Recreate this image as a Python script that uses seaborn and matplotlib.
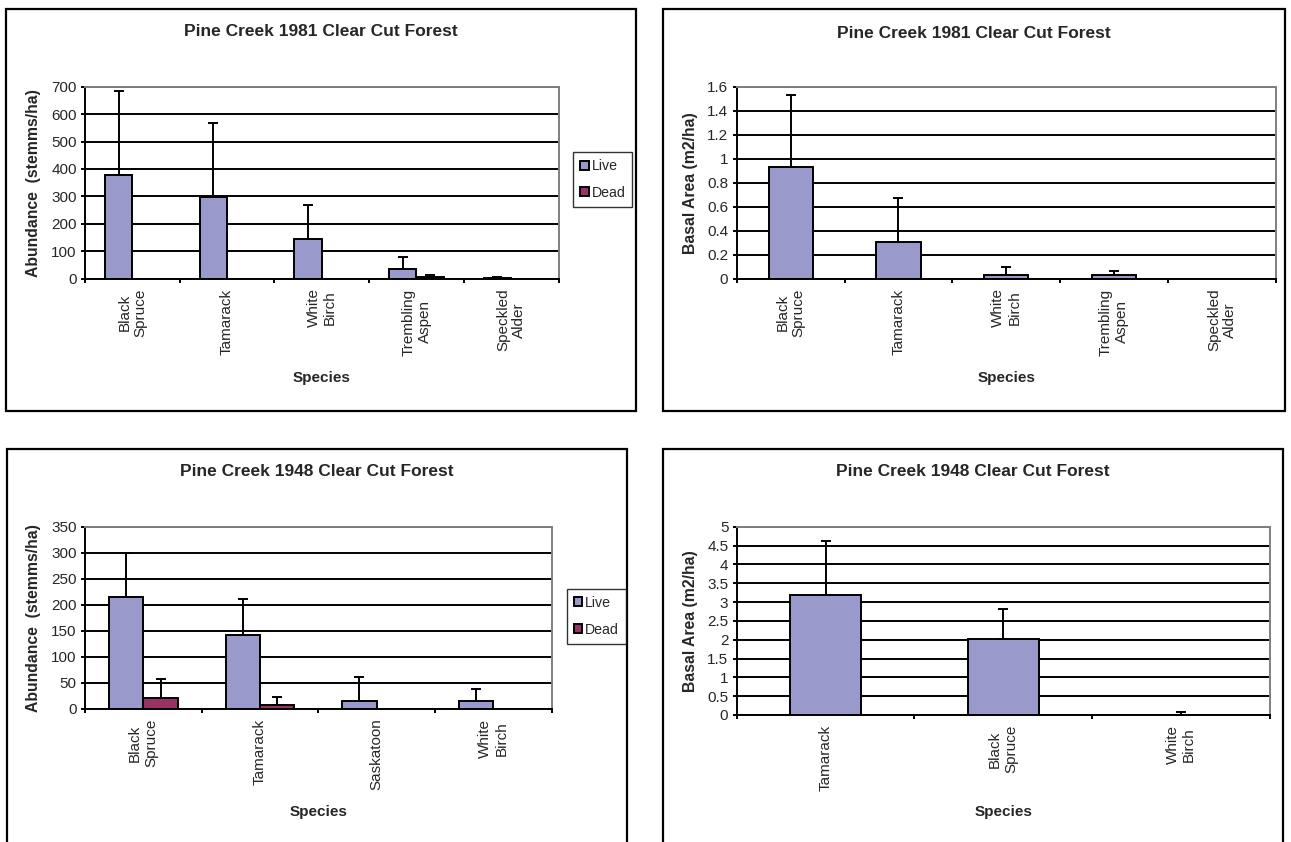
"""
Pine Creek clear cut forest: stem abundance and basal area by species (1981 and 1948 cuts).
Four Excel-style bar panels, each in its own framed box.
"""
import matplotlib
matplotlib.use("Agg")
import matplotlib.pyplot as plt
from matplotlib.patches import Rectangle, Patch
from matplotlib.ticker import FixedLocator, FuncFormatter
import numpy as np
import pandas as pd
import seaborn as sns

# ---- values ----
species_1981 = ["Black\nSpruce", "Tamarack", "White\nBirch", "Trembling\nAspen", "Speckled\nAlder"]
live_stems_1981 = [378, 299, 145, 35, 4]
live_stems_1981_sd = [307, 270, 124, 44, 2]
dead_stems_1981 = [0, 0, 0, 7, 0]
dead_stems_1981_sd = [0, 0, 0, 8, 0]
basal_1981 = [0.93, 0.31, 0.03, 0.03, 0.0]
basal_1981_sd = [0.60, 0.36, 0.07, 0.037, 0.0]

species_1948 = ["Black\nSpruce", "Tamarack", "Saskatoon", "White\nBirch"]
live_stems_1948 = [215, 142, 15, 15]
live_stems_1948_sd = [85, 69, 46, 23]
dead_stems_1948 = [22, 8, 0, 0]
dead_stems_1948_sd = [35, 15, 0, 0]

species_basal_1948 = ["Tamarack", "Black\nSpruce", "White\nBirch"]
basal_1948 = [3.19, 2.03, 0.01]
basal_1948_sd = [1.43, 0.79, 0.06]

status_levels = ["Live", "Dead"]
status_colors = {"Live": "#9999CC", "Dead": "#993366"}

title_1981 = "Pine Creek 1981 Clear Cut Forest"
title_1948 = "Pine Creek 1948 Clear Cut Forest"
stems_label = "Abundance  (stemms/ha)"
basal_label = "Basal Area (m2/ha)"

W, H = 1291, 842
LW = 1.4

sns.set_theme(style="white")
plt.rcParams["font.family"] = ["Liberation Sans", "DejaVu Sans"]


def fpt(x, y):
    """pixel position -> figure fraction"""
    return x / W, 1 - y / H


def stems_frame(species, live, dead):
    return pd.concat([
        pd.DataFrame({"Species": species, "Status": "Live", "Value": live}),
        pd.DataFrame({"Species": species, "Status": "Dead", "Value": dead}),
    ], ignore_index=True)


def add_errorbars(ax, sd_lists):
    # Excel style "plus" error bars sitting on top of each bar
    for container, sds in zip(ax.containers, sd_lists):
        for bar, sd in zip(container, sds):
            if sd <= 0:
                continue
            x = bar.get_x() + bar.get_width() / 2
            y = bar.get_height()
            ax.errorbar(x, y, yerr=[[0], [sd]], fmt="none", ecolor="black",
                        elinewidth=LW, capsize=3.6, capthick=LW, zorder=3)


def make_panel(fig, title, frame, axes_px, df, species, sds, ymax, ystep, ylabel,
               title_y, xlabel_y, ylabel_x, hued, width, legend_at=None):
    # outer chart frame
    x0, y0, x1, y1 = frame
    fig.add_artist(Rectangle(fpt(x0, y1), (x1 - x0) / W, (y1 - y0) / H,
                             transform=fig.transFigure, fill=False,
                             edgecolor="black", linewidth=1.6))
    ax0, ay0, ax1, ay1 = axes_px
    ax = fig.add_axes([ax0 / W, 1 - ay1 / H, (ax1 - ax0) / W, (ay1 - ay0) / H])

    if hued:
        sns.barplot(data=df, x="Species", y="Value", hue="Status", order=species,
                    hue_order=status_levels, palette=status_colors, width=width,
                    saturation=1, edgecolor="black", linewidth=LW, errorbar=None,
                    legend=False, ax=ax)
    else:
        sns.barplot(data=df, x="Species", y="Value", order=species,
                    color=status_colors["Live"], width=width, saturation=1,
                    edgecolor="black", linewidth=LW, errorbar=None, ax=ax)
    add_errorbars(ax, sds)

    n = len(species)
    ax.set_xlim(-0.5, n - 0.5)
    ax.set_ylim(0, ymax)
    ticks = np.round(np.arange(0, ymax + ystep / 2, ystep), 3)
    ax.yaxis.set_major_locator(FixedLocator(ticks))
    ax.yaxis.set_major_formatter(FuncFormatter(lambda v, p: f"{v:g}"))
    ax.yaxis.grid(True, color="black", linewidth=LW)
    ax.set_axisbelow(True)

    ax.set_xticks(range(n))
    ax.set_xticklabels(species, rotation=90, ha="center", va="top",
                       multialignment="center", fontsize=11)
    ax.set_xticks(np.arange(-0.5, n), minor=True)
    ax.tick_params(axis="x", which="major", length=0, pad=7)
    ax.tick_params(axis="x", which="minor", length=3, width=LW, direction="out",
                   color="black", bottom=True)
    ax.tick_params(axis="y", length=3, width=LW, direction="out", color="black",
                   left=True, pad=3, labelsize=11)
    ax.set_xlabel("")
    ax.set_ylabel("")

    for side in ["left", "bottom"]:
        ax.spines[side].set_color("black")
        ax.spines[side].set_linewidth(LW)
    for side in ["top", "right"]:
        ax.spines[side].set_color("#808080")
        ax.spines[side].set_linewidth(LW)

    fig.text(*fpt((x0 + x1) / 2, title_y), title, ha="center", va="center",
             fontsize=12.5, fontweight="bold")
    fig.text(*fpt((ax0 + ax1) / 2, xlabel_y), "Species", ha="center", va="center",
             fontsize=11, fontweight="bold")
    fig.text(*fpt(ylabel_x, (ay0 + ay1) / 2), ylabel, rotation=90, ha="center",
             va="center", fontsize=11.3, fontweight="bold")

    if legend_at is not None:
        handles = [Patch(facecolor=status_colors[s], edgecolor="black", linewidth=LW)
                   for s in status_levels]
        fig.legend(handles, status_levels, loc="upper left",
                   bbox_to_anchor=fpt(*legend_at), bbox_transform=fig.transFigure,
                   borderaxespad=0, frameon=True, fancybox=False, edgecolor="black",
                   fontsize=10.2, handlelength=0.6, handleheight=0.6,
                   handletextpad=0.2, labelspacing=0.9, borderpad=0.5)
    return ax


fig = plt.figure(figsize=(W / 100, H / 100), dpi=100)
fig.patch.set_facecolor("white")

# 1981 abundance
make_panel(fig, title_1981, (6, 9, 636, 411), (85, 86.7, 558.5, 278.7),
           stems_frame(species_1981, live_stems_1981, dead_stems_1981), species_1981,
           [live_stems_1981_sd, dead_stems_1981_sd], 700, 100, stems_label,
           32, 378, 34, True, 0.58, legend_at=(573, 152))

# 1981 basal area
make_panel(fig, title_1981, (663, 9, 1285, 411), (736.7, 86.7, 1276, 278.7),
           pd.DataFrame({"Species": species_1981, "Value": basal_1981}), species_1981,
           [basal_1981_sd], 1.6, 0.2, basal_label, 33, 378, 690, False, 0.41)

# 1948 abundance
make_panel(fig, title_1948, (7, 449, 627, 860), (85, 526.7, 551.7, 709),
           stems_frame(species_1948, live_stems_1948, dead_stems_1948), species_1948,
           [live_stems_1948_sd, dead_stems_1948_sd], 350, 50, stems_label,
           471, 812, 34, True, 0.59, legend_at=(566.5, 588.7))

# 1948 basal area
make_panel(fig, title_1948, (663, 449, 1283, 860), (736.7, 526.7, 1270, 715),
           pd.DataFrame({"Species": species_basal_1948, "Value": basal_1948}),
           species_basal_1948, [basal_1948_sd], 5, 0.5, basal_label,
           472, 812, 690, False, 0.40)

fig.savefig("out.png", dpi=100, facecolor="white")
